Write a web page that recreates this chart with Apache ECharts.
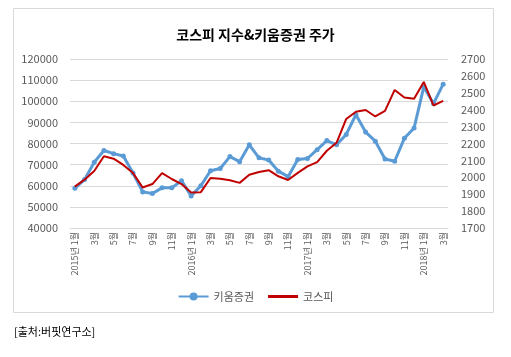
<!DOCTYPE html>
<html><head><meta charset="utf-8">
<script src="https://cdn.jsdelivr.net/npm/echarts@6/dist/echarts.min.js"></script>
<style>html,body{margin:0;padding:0;background:#fff}#c{width:511px;height:357px}</style>
</head><body><div id="c"></div>
<script>
const categories = [
 "2015년 1월","2월","3월","4월","5월","6월","7월","8월","9월","10월","11월","12월",
 "2016년 1월","2월","3월","4월","5월","6월","7월","8월","9월","10월","11월","12월",
 "2017년 1월","2월","3월","4월","5월","6월","7월","8월","9월","10월","11월","12월",
 "2018년 1월","2월","3월"
];
const kiwoom = [
 58800,62900,71100,76700,75200,74100,66000,57100,56300,59000,59000,62400,
 55200,60000,67100,68200,73800,71400,79400,73200,72200,66900,64300,72400,
 72900,77100,81400,79400,84300,93600,85400,81100,72700,71600,82500,87300,
 106800,98900,108100
];
const kospi = [
 1945,1986,2037,2125,2110,2073,2025,1940,1960,2025,1990,1960,
 1910,1912,1996,1992,1982,1967,2015,2031,2042,2006,1984,2026,
 2065,2090,2157,2204,2345,2388,2398,2360,2393,2517,2472,2465,
 2564,2425,2452
];
const leftTicks = {min:40000,max:120000,interval:10000};
const rightTicks = {min:1700,max:2700,interval:100};

const font = '"Noto Sans CJK KR", sans-serif';
const chart = echarts.init(document.getElementById('c'), null, {renderer:'canvas'});
chart.setOption({
  animation:false,
  textStyle:{fontFamily:font},
  graphic:[
    {type:'rect',shape:{x:13.5,y:8.5,width:480,height:304},style:{fill:'none',stroke:'#d9d9d9',lineWidth:1}},
    {type:'text',left:14,top:326,style:{text:'[출처:버핏연구소]',font:'11px '+font,fill:'#000'}}
  ],
  title:{text:'코스피 지수&키움증권 주가',left:'center',top:23,
    textStyle:{fontSize:14,fontWeight:'bold',color:'#000',fontFamily:font}},
  legend:{bottom:50,left:'center',itemWidth:30,itemHeight:10,itemGap:14,
    textStyle:{fontSize:11,color:'#595959',fontFamily:font},
    data:[{name:'키움증권'},{name:'코스피',icon:'path://M0,0 L30,0 L30,3 L0,3 Z',itemHeight:3}]},
  grid:{left:70,right:63,top:59,bottom:129},
  xAxis:{type:'category',data:categories,boundaryGap:true,
    axisLine:{show:true,lineStyle:{color:'#d9d9d9'}},axisTick:{show:false},
    axisLabel:{interval:1,rotate:90,fontSize:9,color:'#595959',margin:4,fontFamily:font}},
  yAxis:[
    {type:'value',min:leftTicks.min,max:leftTicks.max,interval:leftTicks.interval,
      axisLine:{show:false},axisTick:{show:false},
      splitLine:{lineStyle:{color:'#d9d9d9'}},
      axisLabel:{fontSize:11,color:'#595959',margin:12,fontFamily:font,formatter:v=>String(v)}},
    {type:'value',min:rightTicks.min,max:rightTicks.max,interval:rightTicks.interval,
      axisLine:{show:false},axisTick:{show:false},splitLine:{show:false},
      axisLabel:{fontSize:11,color:'#595959',margin:13,fontFamily:font,formatter:v=>String(v)}}
  ],
  series:[
    {name:'키움증권',type:'line',data:kiwoom,yAxisIndex:0,symbol:'circle',symbolSize:5,
      lineStyle:{width:3,color:'#5B9BD5'},itemStyle:{color:'#5B9BD5'},z:2},
    {name:'코스피',type:'line',data:kospi,yAxisIndex:1,symbol:'none',showSymbol:false,
      lineStyle:{width:2,color:'#C00000'},itemStyle:{color:'#C00000'},z:3}
  ]
});
</script></body></html>
